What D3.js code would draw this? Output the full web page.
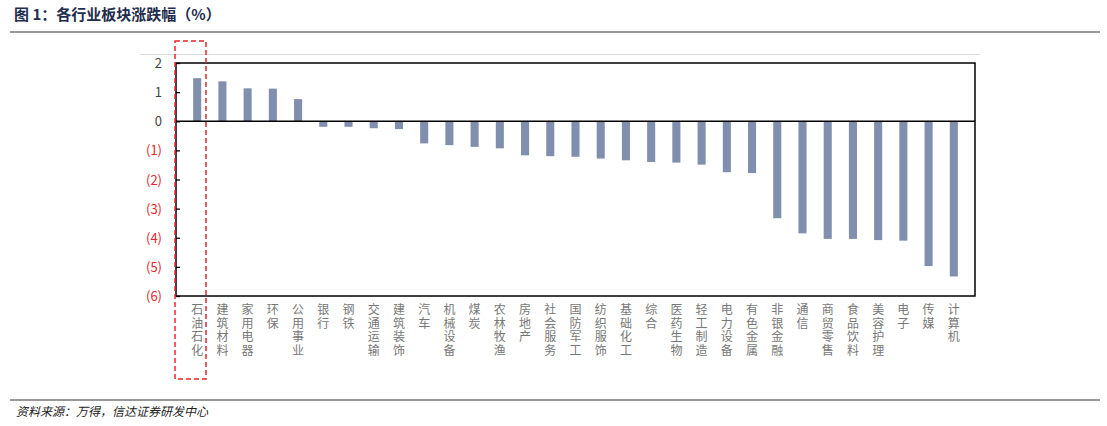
<!DOCTYPE html>
<html><head><meta charset="utf-8">
<script src="https://cdn.jsdelivr.net/npm/d3@7"></script>
<style>body{margin:0;background:#fff}</style></head>
<body><div id="chart"></div>
<script>
var categories = ['石油石化','建筑材料','家用电器','环保','公用事业','银行','钢铁','交通运输','建筑装饰','汽车','机械设备','煤炭','农林牧渔','房地产','社会服务','国防军工','纺织服饰','基础化工','综合','医药生物','轻工制造','电力设备','有色金属','非银金融','通信','商贸零售','食品饮料','美容护理','电子','传媒','计算机'];
var values = [1.48,1.37,1.13,1.12,0.76,-0.19,-0.19,-0.24,-0.27,-0.76,-0.82,-0.88,-0.93,-1.17,-1.2,-1.22,-1.28,-1.34,-1.4,-1.42,-1.49,-1.75,-1.78,-3.33,-3.85,-4.04,-4.04,-4.08,-4.1,-4.97,-5.33];
var yTicks = [2,1,0,-1,-2,-3,-4,-5,-6];

var W = 1107, H = 426;
var svg = d3.select('#chart').append('svg').attr('width', W).attr('height', H)
  .style('font-family', '"Noto Sans CJK SC", sans-serif');

// header
svg.append('text').attr('x', 14).attr('y', 20).attr('font-size', 15).attr('font-weight', 'bold')
  .attr('fill', '#1f2d4d').text('图 1：各行业板块涨跌幅（%）');
svg.append('line').attr('x1', 10).attr('x2', 1100).attr('y1', 32).attr('y2', 32).attr('stroke', '#333').attr('stroke-width', 1.2);
svg.append('line').attr('x1', 140).attr('x2', 980).attr('y1', 54.5).attr('y2', 54.5).attr('stroke', '#d9d9d9');

var x = d3.scaleBand().domain(categories).range([176, 975]).padding(0.68);
var y = d3.scaleLinear().domain([-6, 2]).range([296, 63]);

svg.append('rect').attr('x', 176).attr('y', y(2)).attr('width', 799).attr('height', y(-6) - y(2))
  .attr('fill', 'none').attr('stroke', '#000').attr('stroke-width', 1.5);

svg.selectAll('rect.bar').data(values).enter().append('rect').attr('class', 'bar')
  .attr('x', function(d, i) { return x(categories[i]); })
  .attr('width', x.bandwidth())
  .attr('y', function(d) { return y(Math.max(0, d)); })
  .attr('height', function(d) { return Math.abs(y(d) - y(0)); })
  .attr('fill', '#7f8fad');

svg.append('line').attr('x1', 176).attr('x2', 975).attr('y1', y(0)).attr('y2', y(0)).attr('stroke', '#000').attr('stroke-width', 1.3);

// y axis
var yAxis = svg.append('g').attr('transform', 'translate(176,0)')
  .call(d3.axisRight(y).tickValues(yTicks).tickSize(4).tickFormat(''));
yAxis.select('.domain').remove();
yAxis.selectAll('line').attr('stroke', '#000').attr('stroke-width', 1.3);
svg.selectAll('text.yl').data(yTicks).enter().append('text').attr('class', 'yl')
  .attr('x', 162).attr('y', function(d) { return y(d) + 5; })
  .attr('text-anchor', 'end').attr('font-size', 13)
  .attr('fill', function(d) { return d < 0 ? '#e8262b' : '#444'; })
  .text(function(d) { return d < 0 ? '(' + (-d) + ')' : d; });

// vertical category labels, one glyph per text
categories.forEach(function(c) {
  var cx = x(c) + x.bandwidth() / 2;
  svg.selectAll(null).data(c.split('')).enter().append('text')
    .attr('x', cx).attr('y', function(ch, k) { return 314 + k * 13.5; })
    .attr('font-size', 12).attr('fill', '#777').attr('text-anchor', 'middle')
    .text(function(ch) { return ch; });
});

// highlight box
svg.append('rect').attr('x', 175).attr('y', 41).attr('width', 31).attr('height', 338)
  .attr('fill', 'none').attr('stroke', '#e8262b').attr('stroke-width', 1.5).attr('stroke-dasharray', '5,3');

// footer
svg.append('line').attr('x1', 10).attr('x2', 1100).attr('y1', 400).attr('y2', 400).attr('stroke', '#333');
svg.append('text').attr('x', 16).attr('y', 416).attr('font-size', 12).attr('font-style', 'italic')
  .attr('fill', '#222').text('资料来源：万得，信达证券研发中心');
</script></body></html>
